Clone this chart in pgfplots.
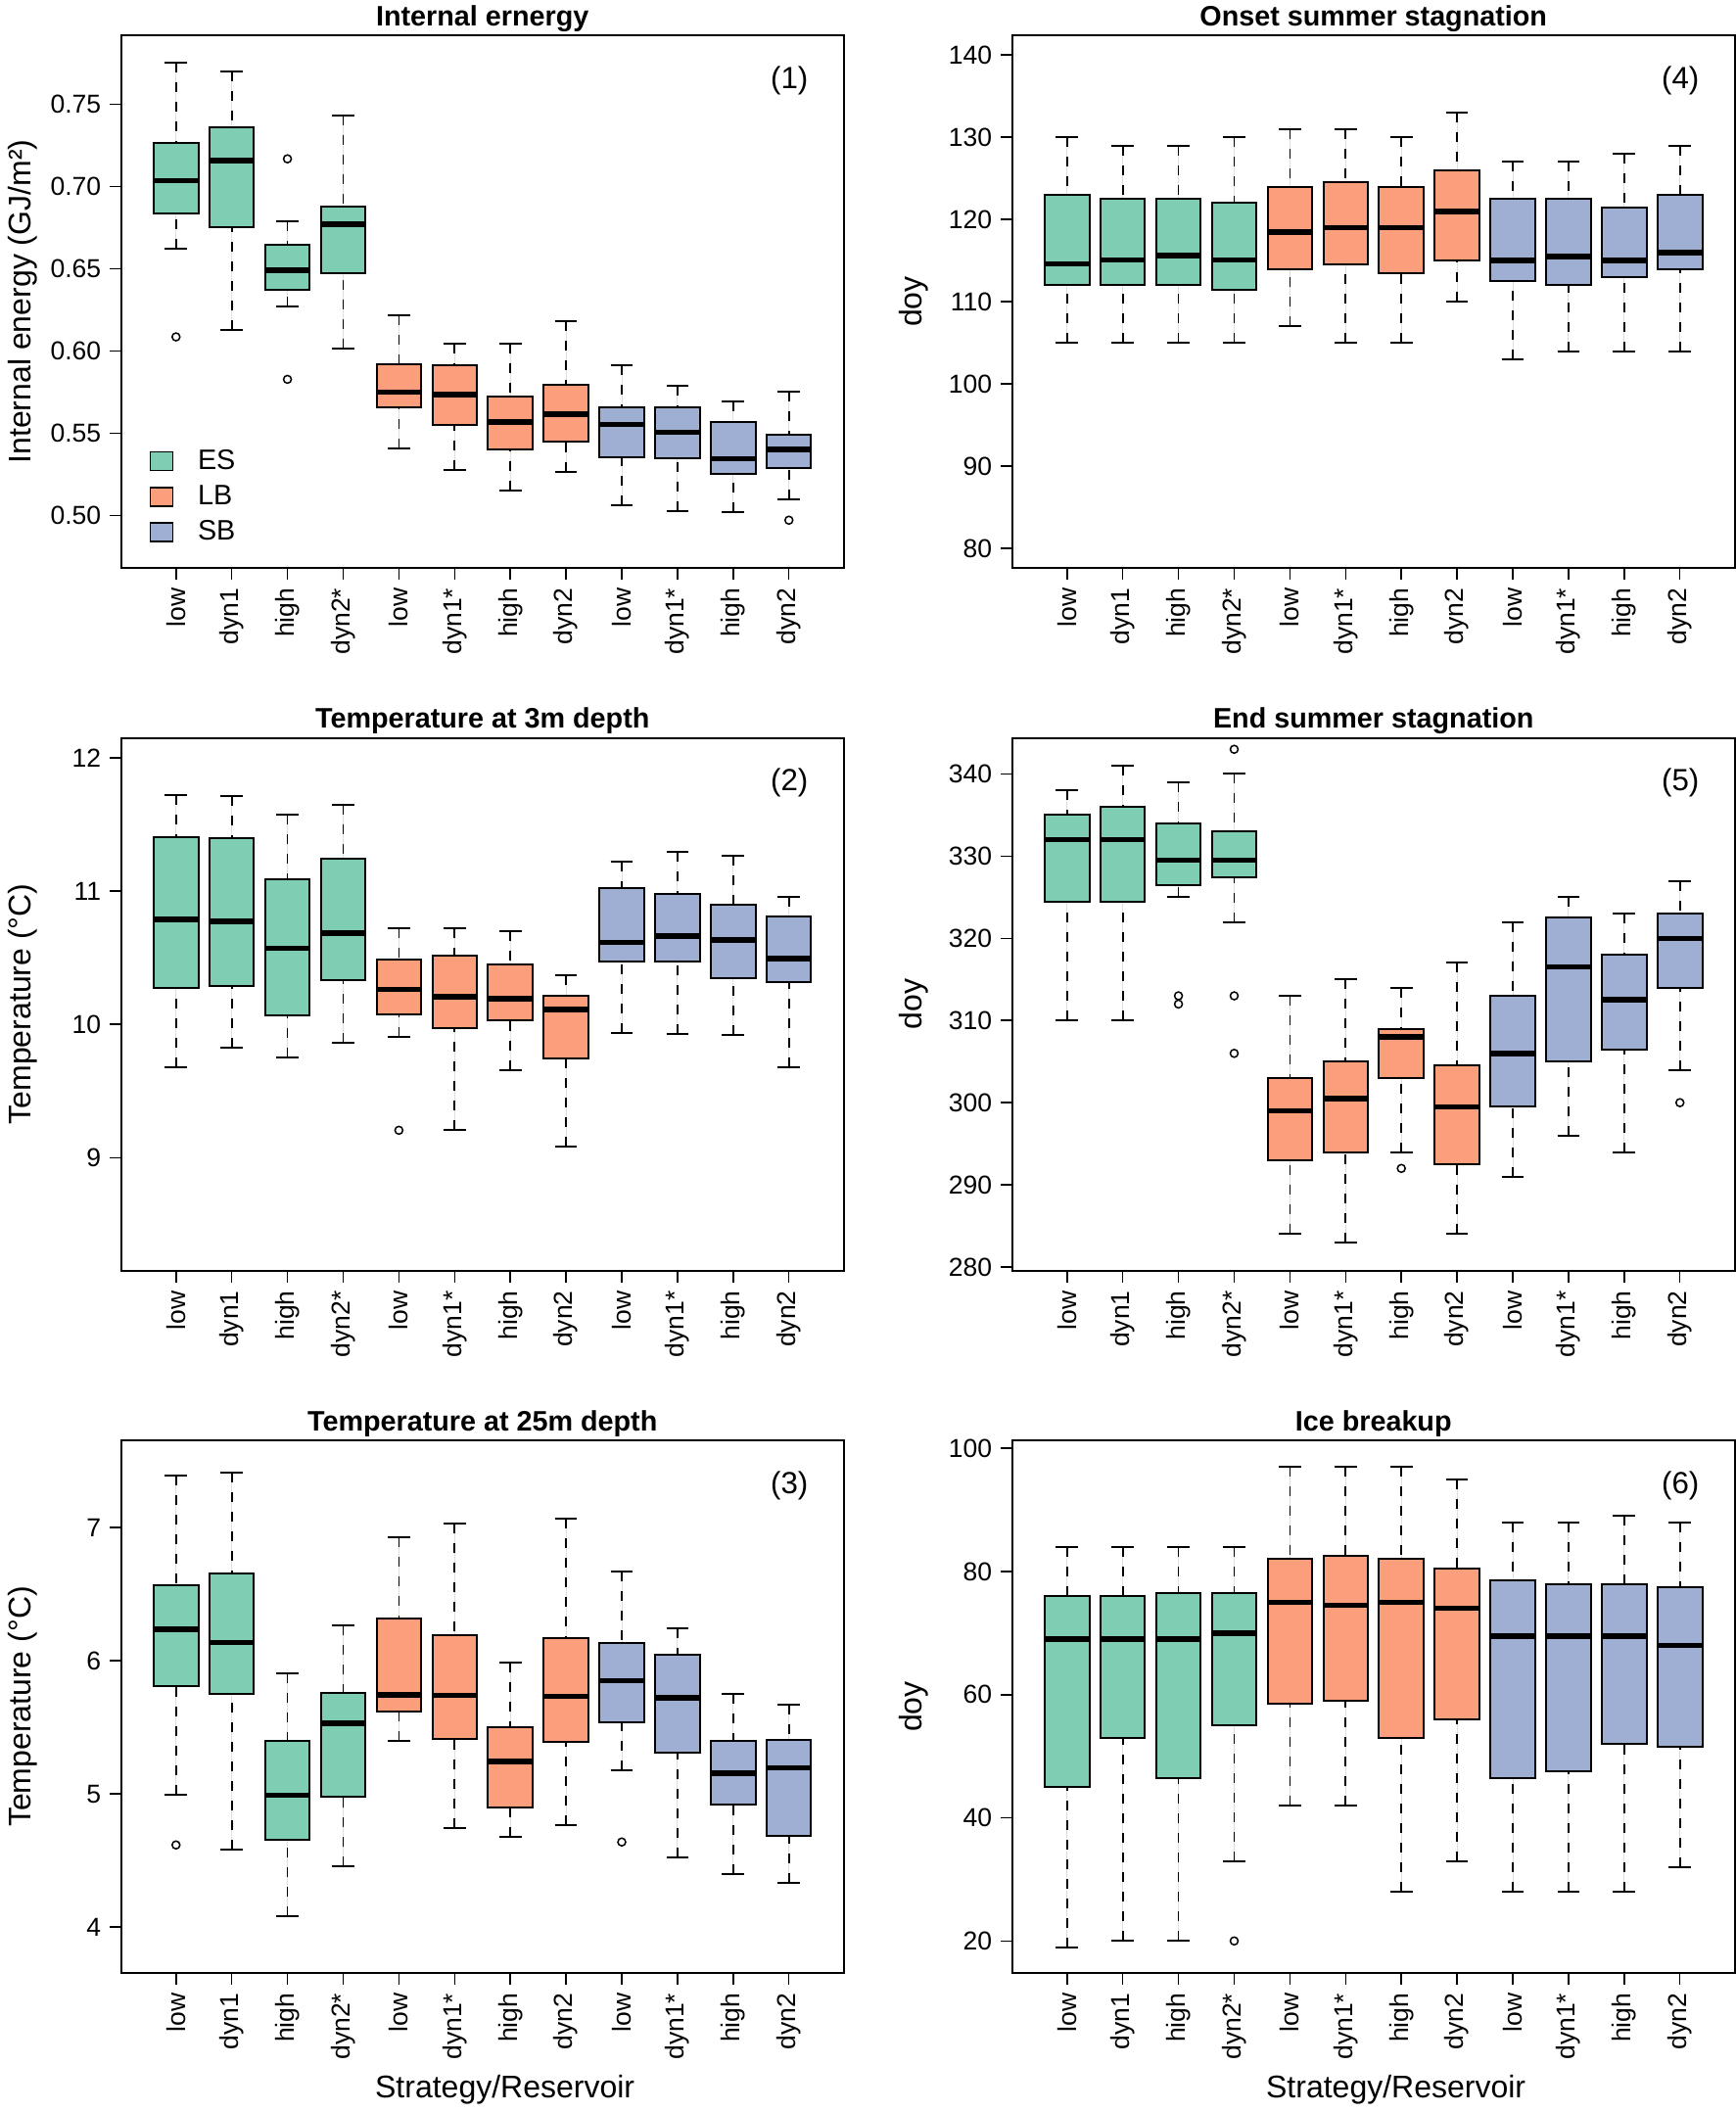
\documentclass[border=0pt]{standalone}
\usepackage{fontspec}
\setmainfont{Liberation Sans}
\usepackage{pgfplots}
\pgfplotsset{compat=1.18}
\usepgfplotslibrary{statistics}
\definecolor{esc}{HTML}{7FCDB3}
\definecolor{lbc}{HTML}{FA9E7B}
\definecolor{sbc}{HTML}{9FAED3}
\newcommand\ticksize{\fontsize{10.6}{12}\selectfont}
\newcommand\labelsize{\fontsize{12.8}{15}\selectfont}
\newcommand\titlesize{\fontsize{11.5}{13}\selectfont}
\newcommand\legsize{\fontsize{11.5}{13}\selectfont}
\newcommand\tagsize{\fontsize{12.5}{14}\selectfont}
% position, lower whisker, Q1, median, Q3, upper whisker, colour
\newcommand\bx[7]{\addplot[draw=black, line width=0.8pt, fill=#7,
  boxplot/every box/.append style={fill=#7},
  boxplot prepared={draw position=#1, lower whisker=#2, lower quartile=#3,
  median=#4, upper quartile=#5, upper whisker=#6}] coordinates {};}
\pgfplotsset{
  panel/.style={
    scale only axis, width=295pt, height=217.6pt, anchor=north west,
    xmin=0.02, xmax=12.98,
    xtick={1,2,3,4,5,6,7,8,9,10,11,12},
    xticklabels={low,dyn1,high,dyn2*,low,dyn1*,high,dyn2,low,dyn1*,high,dyn2},
    tick align=outside, tick pos=left, major tick length=4.8pt,
    every tick/.style={black, line width=0.6pt},
    axis line style={line width=0.8pt},
    xticklabel style={rotate=90, anchor=east, font=\ticksize},
    yticklabel style={font=\ticksize},
    /pgf/number format/assume math mode=true,
    every axis title/.style={at={(axis description cs:0.5,1)}, anchor=base, yshift=4pt, font=\bfseries\titlesize},
    ylabel style={at={(axis description cs:-0.137,0.5)}, anchor=center, font=\labelsize},
    xlabel style={at={(axis description cs:0.531,-0.22)}, anchor=center, font=\labelsize},
    boxplot/draw direction=y,
    boxplot/box extend=0.8,
    boxplot/whisker extend=0.4,
    boxplot/every median/.style={line width=2.2pt},
    boxplot/draw/lower whisker/.code={%
      \draw[black, line width=0.7pt, dash pattern=on 4pt off 4pt]
        (boxplot cs:\pgfplotsboxplotvalue{lower whisker}) -- (boxplot cs:\pgfplotsboxplotvalue{lower quartile});
      \draw[black, line width=0.8pt, solid]
        (boxplot whisker cs:\pgfplotsboxplotvalue{lower whisker},0) -- (boxplot whisker cs:\pgfplotsboxplotvalue{lower whisker},1);
    },
    boxplot/draw/upper whisker/.code={%
      \draw[black, line width=0.7pt, dash pattern=on 4pt off 4pt]
        (boxplot cs:\pgfplotsboxplotvalue{upper whisker}) -- (boxplot cs:\pgfplotsboxplotvalue{upper quartile});
      \draw[black, line width=0.8pt, solid]
        (boxplot whisker cs:\pgfplotsboxplotvalue{upper whisker},0) -- (boxplot whisker cs:\pgfplotsboxplotvalue{upper whisker},1);
    },
  },
  outl/.style={only marks, mark=o, mark size=1.6pt, black, mark options={line width=0.6pt, solid}},
}
\begin{document}
\begin{tikzpicture}
% ---------------- (1) Internal energy
\begin{axis}[panel, at={(0pt,0pt)},
  title={Internal ernergy}, ylabel={Internal energy (GJ/m²)},
  ymin=0.4683, ymax=0.792, ytick={0.50,0.55,0.60,0.65,0.70,0.75},
  yticklabel style={/pgf/number format/fixed, /pgf/number format/fixed zerofill, /pgf/number format/precision=2},
  legend style={at={(0.038,0.035)}, anchor=south west, draw=none, fill=none, font=\legsize,
    row sep=1pt, column sep=8pt, inner sep=0pt, cells={anchor=west}},
  legend image code/.code={\draw[#1, draw=black, line width=0.6pt] (0pt,-3.8pt) rectangle (9.2pt,3.8pt);},
]
\addlegendimage{fill=esc}\addlegendentry{ES}
\addlegendimage{fill=lbc}\addlegendentry{LB}
\addlegendimage{fill=sbc}\addlegendentry{SB}
\bx{1}{0.6623}{0.684}{0.7037}{0.7267}{0.7753}{esc}
\bx{2}{0.6128}{0.6756}{0.7158}{0.7361}{0.7701}{esc}
\bx{3}{0.627}{0.6374}{0.6493}{0.6644}{0.6788}{esc}
\bx{4}{0.6018}{0.6473}{0.6772}{0.6879}{0.7432}{esc}
\bx{5}{0.5408}{0.5658}{0.5751}{0.5918}{0.6219}{lbc}
\bx{6}{0.5281}{0.555}{0.5735}{0.5913}{0.6046}{lbc}
\bx{7}{0.5153}{0.5402}{0.5571}{0.5724}{0.6048}{lbc}
\bx{8}{0.5265}{0.5452}{0.5616}{0.5797}{0.6183}{lbc}
\bx{9}{0.5062}{0.5354}{0.5555}{0.5658}{0.5916}{sbc}
\bx{10}{0.503}{0.5349}{0.5507}{0.566}{0.5788}{sbc}
\bx{11}{0.5023}{0.5256}{0.5347}{0.5568}{0.5696}{sbc}
\bx{12}{0.5098}{0.5292}{0.5402}{0.5495}{0.5753}{sbc}
\addplot[outl] coordinates {(1,0.6087) (3,0.7169) (3,0.5829) (12,0.4973)};
\node[font=\tagsize] at (rel axis cs:0.925,0.915) {(1)};
\end{axis}
% ---------------- (4) Onset summer stagnation
\begin{axis}[panel, at={(364pt,0pt)},
  title={Onset summer stagnation}, ylabel={doy},
  ymin=77.64, ymax=142.4, ytick={80,90,100,110,120,130,140},
]
\bx{1}{105}{112}{114.6}{123}{130}{esc}
\bx{2}{105}{112}{115.1}{122.5}{129}{esc}
\bx{3}{105}{112}{115.6}{122.5}{129}{esc}
\bx{4}{105}{111.5}{115.1}{122}{130}{esc}
\bx{5}{107}{114}{118.5}{124}{131}{lbc}
\bx{6}{105}{114.5}{119}{124.5}{131}{lbc}
\bx{7}{105}{113.5}{119}{124}{130}{lbc}
\bx{8}{110}{115}{121}{126}{133}{lbc}
\bx{9}{103}{112.5}{115}{122.5}{127}{sbc}
\bx{10}{104}{112}{115.5}{122.5}{127}{sbc}
\bx{11}{104}{113}{115}{121.5}{128}{sbc}
\bx{12}{104}{114}{116}{123}{129}{sbc}
\node[font=\tagsize] at (rel axis cs:0.925,0.915) {(4)};
\end{axis}
% ---------------- (2) Temperature at 3m depth
\begin{axis}[panel, at={(0pt,-287pt)},
  title={Temperature at 3m depth}, ylabel={Temperature (°C)},
  ymin=8.155, ymax=12.149, ytick={9,10,11,12},
]
\bx{1}{9.676}{10.276}{10.789}{11.406}{11.721}{esc}
\bx{2}{9.825}{10.285}{10.772}{11.394}{11.71}{esc}
\bx{3}{9.755}{10.068}{10.572}{11.087}{11.572}{esc}
\bx{4}{9.865}{10.332}{10.685}{11.245}{11.648}{esc}
\bx{5}{9.907}{10.073}{10.262}{10.485}{10.718}{lbc}
\bx{6}{9.211}{9.972}{10.206}{10.518}{10.721}{lbc}
\bx{7}{9.659}{10.034}{10.192}{10.448}{10.699}{lbc}
\bx{8}{9.087}{9.746}{10.113}{10.214}{10.369}{lbc}
\bx{9}{9.938}{10.470}{10.614}{11.02}{11.223}{sbc}
\bx{10}{9.930}{10.473}{10.662}{10.975}{11.293}{sbc}
\bx{11}{9.921}{10.346}{10.634}{10.896}{11.268}{sbc}
\bx{12}{9.676}{10.318}{10.493}{10.808}{10.958}{sbc}
\addplot[outl] coordinates {(5,9.206)};
\node[font=\tagsize] at (rel axis cs:0.925,0.915) {(2)};
\end{axis}
% ---------------- (5) End summer stagnation
\begin{axis}[panel, at={(364pt,-287pt)},
  title={End summer stagnation}, ylabel={doy},
  ymin=279.58, ymax=344.4, ytick={280,290,300,310,320,330,340},
]
\bx{1}{310}{324.5}{332}{335}{338}{esc}
\bx{2}{310}{324.5}{332}{336}{341}{esc}
\bx{3}{325}{326.5}{329.5}{334}{339}{esc}
\bx{4}{322}{327.4}{329.5}{333}{340}{esc}
\bx{5}{284}{293}{299}{303}{313}{lbc}
\bx{6}{283}{294}{300.5}{305}{315}{lbc}
\bx{7}{294}{303}{308}{309}{314}{lbc}
\bx{8}{284}{292.5}{299.5}{304.5}{317}{lbc}
\bx{9}{291}{299.5}{306}{313}{322}{sbc}
\bx{10}{296}{305}{316.5}{322.5}{325}{sbc}
\bx{11}{294}{306.5}{312.5}{318}{323}{sbc}
\bx{12}{304}{314}{320}{323}{327}{sbc}
\addplot[outl] coordinates {(3,313) (3,312) (4,343) (4,313) (4,306) (7,292) (12,300)};
\node[font=\tagsize] at (rel axis cs:0.925,0.915) {(5)};
\end{axis}
% ---------------- (3) Temperature at 25m depth
\begin{axis}[panel, at={(0pt,-574pt)},
  title={Temperature at 25m depth}, ylabel={Temperature (°C)}, xlabel={Strategy/Reservoir},
  ymin=3.656, ymax=7.654, ytick={4,5,6,7},
]
\bx{1}{4.997}{5.806}{6.234}{6.566}{7.386}{esc}
\bx{2}{4.58}{5.752}{6.138}{6.651}{7.408}{esc}
\bx{3}{4.079}{4.654}{4.989}{5.397}{5.904}{esc}
\bx{4}{4.454}{4.980}{5.530}{5.761}{6.265}{esc}
\bx{5}{5.397}{5.617}{5.744}{6.313}{6.927}{lbc}
\bx{6}{4.744}{5.414}{5.738}{6.194}{7.028}{lbc}
\bx{7}{4.679}{4.901}{5.242}{5.499}{5.986}{lbc}
\bx{8}{4.766}{5.394}{5.732}{6.172}{7.065}{lbc}
\bx{9}{5.180}{5.538}{5.851}{6.132}{6.668}{sbc}
\bx{10}{4.521}{5.313}{5.721}{6.048}{6.245}{sbc}
\bx{11}{4.397}{4.918}{5.155}{5.397}{5.749}{sbc}
\bx{12}{4.332}{4.685}{5.194}{5.403}{5.673}{sbc}
\addplot[outl] coordinates {(1,4.617) (9,4.639)};
\node[font=\tagsize] at (rel axis cs:0.925,0.915) {(3)};
\end{axis}
% ---------------- (6) Ice breakup
\begin{axis}[panel, at={(364pt,-574pt)},
  title={Ice breakup}, ylabel={doy}, xlabel={Strategy/Reservoir},
  ymin=14.8, ymax=101.3, ytick={20,40,60,80,100},
]
\bx{1}{19}{45}{69}{76}{84}{esc}
\bx{2}{20}{53}{69}{76}{84}{esc}
\bx{3}{20}{46.5}{69}{76.5}{84}{esc}
\bx{4}{33}{55}{70}{76.5}{84}{esc}
\bx{5}{42}{58.5}{75}{82}{97}{lbc}
\bx{6}{42}{59}{74.5}{82.5}{97}{lbc}
\bx{7}{28}{53}{75}{82}{97}{lbc}
\bx{8}{33}{56}{74}{80.5}{95}{lbc}
\bx{9}{28}{46.5}{69.5}{78.5}{88}{sbc}
\bx{10}{28}{47.5}{69.5}{78}{88}{sbc}
\bx{11}{28}{52}{69.5}{78}{89}{sbc}
\bx{12}{32}{51.5}{68}{77.5}{88}{sbc}
\addplot[outl] coordinates {(4,20)};
\node[font=\tagsize] at (rel axis cs:0.925,0.915) {(6)};
\end{axis}
\pgfresetboundingbox
\path (-49.6pt,14.4pt) rectangle (659.6pt,-848.4pt);
\end{tikzpicture}
\end{document}
